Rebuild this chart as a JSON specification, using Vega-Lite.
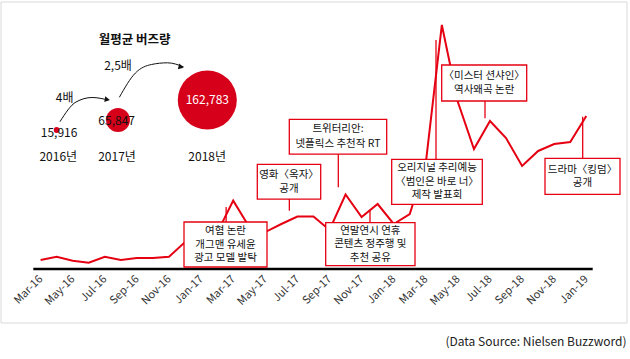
{
  "$schema": "https://vega.github.io/schema/vega-lite/v6.json",
  "width": 626,
  "height": 321,
  "autosize": {"type": "none"},
  "padding": {"left": 0.5, "top": 1.5, "right": 3.5, "bottom": 36.5},
  "background": "white",
  "config": {
    "font": "Noto Sans CJK KR",
    "view": {"stroke": "#D9D9D9", "strokeWidth": 1}
  },
  "title": {
    "text": "(Data Source: Nielsen Buzzword)",
    "orient": "bottom",
    "anchor": "end",
    "frame": "group",
    "font": "Noto Sans CJK KR",
    "fontSize": 12,
    "fontWeight": "normal",
    "color": "#222222",
    "offset": 14
  },
  "datasets": {
    "buzz": [
      {"month": "Mar-16", "v": 11900},
      {"month": "Apr-16", "v": 16200},
      {"month": "May-16", "v": 11000},
      {"month": "Jun-16", "v": 8300},
      {"month": "Jul-16", "v": 16200},
      {"month": "Aug-16", "v": 11900},
      {"month": "Sep-16", "v": 14500},
      {"month": "Oct-16", "v": 14500},
      {"month": "Nov-16", "v": 16200},
      {"month": "Dec-16", "v": 35600},
      {"month": "Jan-17", "v": 42200},
      {"month": "Feb-17", "v": 47500},
      {"month": "Mar-17", "v": 90200},
      {"month": "Apr-17", "v": 55400},
      {"month": "May-17", "v": 48800},
      {"month": "Jun-17", "v": 59400},
      {"month": "Jul-17", "v": 69300},
      {"month": "Aug-17", "v": 69300},
      {"month": "Sep-17", "v": 51500},
      {"month": "Oct-17", "v": 98300},
      {"month": "Nov-17", "v": 68600},
      {"month": "Dec-17", "v": 85800},
      {"month": "Jan-18", "v": 59400},
      {"month": "Feb-18", "v": 72600},
      {"month": "Mar-18", "v": 139900},
      {"month": "Apr-18", "v": 322100},
      {"month": "May-18", "v": 220400},
      {"month": "Jun-18", "v": 158400},
      {"month": "Jul-18", "v": 195400},
      {"month": "Aug-18", "v": 172900},
      {"month": "Sep-18", "v": 136000},
      {"month": "Oct-18", "v": 155800},
      {"month": "Nov-18", "v": 165000},
      {"month": "Dec-18", "v": 167600},
      {"month": "Jan-19", "v": 202000}
    ],
    "bubbles": [
      {"year": "2016년", "buzz": 15916},
      {"year": "2017년", "buzz": 65847},
      {"year": "2018년", "buzz": 162783}
    ],
    "arrow1": [
      {"month": "Apr-16", "v": 194436},
      {"month": "May-16", "v": 220440},
      {"month": "Jun-16", "v": 226380},
      {"month": "Jul-16", "v": 223080}
    ],
    "arrow2": [
      {"month": "Aug-16", "v": 226644},
      {"month": "Sep-16", "v": 258720},
      {"month": "Oct-16", "v": 269940},
      {"month": "Nov-16", "v": 272184},
      {"month": "Dec-16", "v": 266904}
    ]
  },
  "layer": [
    {
      "data": {"name": "buzz"},
      "mark": {"type": "line", "color": "#E50012", "strokeWidth": 2},
      "encoding": {
        "x": {
          "field": "month",
          "type": "ordinal",
          "sort": null,
          "scale": {
            "type": "point",
            "padding": 0,
            "range": [40.1, 585.8],
            "domain": ["Mar-16","Apr-16","May-16","Jun-16","Jul-16","Aug-16","Sep-16","Oct-16","Nov-16","Dec-16","Jan-17","Feb-17","Mar-17","Apr-17","May-17","Jun-17","Jul-17","Aug-17","Sep-17","Oct-17","Nov-17","Dec-17","Jan-18","Feb-18","Mar-18","Apr-18","May-18","Jun-18","Jul-18","Aug-18","Sep-18","Oct-18","Nov-18","Dec-18","Jan-19"]
          },
          "axis": {
            "values": ["Mar-16","May-16","Jul-16","Sep-16","Nov-16","Jan-17","Mar-17","May-17","Jul-17","Sep-17","Nov-17","Jan-18","Mar-18","May-18","Jul-18","Sep-18","Nov-18","Jan-19"],
            "labelAngle": -45,
            "labelAlign": "right",
            "labelBaseline": "middle",
            "labelPadding": 8,
            "labelFontSize": 11,
            "labelColor": "#333333",
            "labelFont": "Noto Sans CJK KR",
            "domain": false,
            "ticks": false,
            "grid": false,
            "title": null,
            "offset": -53.5
          }
        },
        "y": {
          "field": "v",
          "type": "quantitative",
          "scale": {"domain": [-70620, 353100], "nice": false, "zero": false},
          "axis": null
        }
      }
    },
    {
      "data": {"values": [{}]},
      "mark": {"type": "rule", "color": "black", "strokeWidth": 2.6, "xOffset": -7.3, "x2Offset": 6.4},
      "encoding": {
        "x": {"datum": "Mar-16", "type": "ordinal"},
        "x2": {"datum": "Jan-19"},
        "y": {"datum": 0, "type": "quantitative"}
      }
    },
    {
      "data": {"values": [{"note": ["여혐 논란", "개그맨 유세윤", "광고 모델 발탁"]}]},
      "encoding": {"x": {"datum": "Feb-17", "type": "ordinal"}},
      "layer": [
        {"mark": {"type": "rule", "color": "#E50012", "strokeWidth": 1.3, "xOffset": 9}, "encoding": {"y": {"datum": 81840, "type": "quantitative"}, "y2": {"datum": 62040}}},
        {"mark": {"type": "rect", "width": 83, "height": 45, "fill": "white", "stroke": "#E50012", "strokeWidth": 1.3, "xOffset": 8.35}, "encoding": {"y": {"datum": 32340, "type": "quantitative"}}},
        {"mark": {"type": "text", "fontSize": 10.5, "lineHeight": 13.5, "color": "#111111", "xOffset": 8.35, "yOffset": -13.5}, "encoding": {"y": {"datum": 32340, "type": "quantitative"}, "text": {"field": "note"}}}
      ]
    },
    {
      "data": {"values": [{"note": ["영화〈옥자〉", "공개"]}]},
      "encoding": {"x": {"datum": "Jun-17", "type": "ordinal"}},
      "layer": [
        {"mark": {"type": "rule", "color": "#E50012", "strokeWidth": 1.3, "xOffset": 8}, "encoding": {"y": {"datum": 92400, "type": "quantitative"}, "y2": {"datum": 76956}}},
        {"mark": {"type": "rect", "width": 63.4, "height": 34.7, "fill": "white", "stroke": "#E50012", "strokeWidth": 1.3, "xOffset": 7.65}, "encoding": {"y": {"datum": 115236, "type": "quantitative"}}},
        {"mark": {"type": "text", "fontSize": 10.5, "lineHeight": 14, "color": "#111111", "xOffset": 7.65, "yOffset": -7}, "encoding": {"y": {"datum": 115236, "type": "quantitative"}, "text": {"field": "note"}}}
      ]
    },
    {
      "data": {"values": [{"note": ["트위터리안:", "넷플릭스 추천작 RT"]}]},
      "encoding": {"x": {"datum": "Sep-17", "type": "ordinal"}},
      "layer": [
        {"mark": {"type": "rule", "color": "#E50012", "strokeWidth": 1.3, "xOffset": 8.8}, "encoding": {"y": {"datum": 151800, "type": "quantitative"}, "y2": {"datum": 107844}}},
        {"mark": {"type": "rect", "width": 97.4, "height": 34.7, "fill": "white", "stroke": "#E50012", "strokeWidth": 1.3, "xOffset": 8.5}, "encoding": {"y": {"datum": 174636, "type": "quantitative"}}},
        {"mark": {"type": "text", "fontSize": 10.5, "lineHeight": 14.5, "color": "#111111", "xOffset": 8.5, "yOffset": -7.25}, "encoding": {"y": {"datum": 174636, "type": "quantitative"}, "text": {"field": "note"}}}
      ]
    },
    {
      "data": {"values": [{"note": ["연말연시 연휴", "콘텐츠 정주행 및", "추천 공유"]}]},
      "encoding": {"x": {"datum": "Dec-17", "type": "ordinal"}},
      "layer": [
        {"mark": {"type": "rule", "color": "#E50012", "strokeWidth": 1.3, "xOffset": -7.65}, "encoding": {"y": {"datum": 61116, "type": "quantitative"}, "y2": {"datum": 77880}}},
        {"mark": {"type": "rect", "width": 89.3, "height": 43, "fill": "white", "stroke": "#E50012", "strokeWidth": 1.3, "xOffset": -7.3}, "encoding": {"y": {"datum": 32736, "type": "quantitative"}}},
        {"mark": {"type": "text", "fontSize": 10.5, "lineHeight": 13.5, "color": "#111111", "xOffset": -7.3, "yOffset": -13.5}, "encoding": {"y": {"datum": 32736, "type": "quantitative"}, "text": {"field": "note"}}}
      ]
    },
    {
      "data": {"values": [{"note": ["오리지널 추리예능", "〈범인은 바로 너〉", "제작 발표회"]}]},
      "encoding": {"x": {"datum": "Apr-18", "type": "ordinal"}},
      "layer": [
        {"mark": {"type": "rule", "color": "#E50012", "strokeWidth": 1.3, "xOffset": -5.85}, "encoding": {"y": {"datum": 144804, "type": "quantitative"}, "y2": {"datum": 302280}}},
        {"mark": {"type": "rect", "width": 90.6, "height": 45, "fill": "white", "stroke": "#E50012", "strokeWidth": 1.3, "xOffset": -4.85}, "encoding": {"y": {"datum": 115104, "type": "quantitative"}}},
        {"mark": {"type": "text", "fontSize": 10.5, "lineHeight": 13.5, "color": "#111111", "xOffset": -4.85, "yOffset": -13.5}, "encoding": {"y": {"datum": 115104, "type": "quantitative"}, "text": {"field": "note"}}}
      ]
    },
    {
      "data": {"values": [{"note": ["〈미스터 션샤인〉", "역사왜곡 논란"]}]},
      "encoding": {"x": {"datum": "Jul-18", "type": "ordinal"}},
      "layer": [
        {"mark": {"type": "rule", "color": "#E50012", "strokeWidth": 1.3, "xOffset": -5}, "encoding": {"y": {"datum": 221760, "type": "quantitative"}, "y2": {"datum": 198924}}},
        {"mark": {"type": "rect", "width": 85, "height": 36, "fill": "white", "stroke": "#E50012", "strokeWidth": 1.3, "xOffset": -5.8}, "encoding": {"y": {"datum": 245520, "type": "quantitative"}}},
        {"mark": {"type": "text", "fontSize": 10.5, "lineHeight": 14.5, "color": "#111111", "xOffset": -5.8, "yOffset": -7.25}, "encoding": {"y": {"datum": 245520, "type": "quantitative"}, "text": {"field": "note"}}}
      ]
    },
    {
      "data": {"values": [{"note": ["드라마〈킹덤〉", "공개"]}]},
      "encoding": {"x": {"datum": "Jan-19", "type": "ordinal"}},
      "layer": [
        {"mark": {"type": "rule", "color": "#E50012", "strokeWidth": 1.3, "xOffset": -3.6}, "encoding": {"y": {"datum": 146124, "type": "quantitative"}, "y2": {"datum": 201036}}},
        {"mark": {"type": "rect", "width": 75, "height": 36, "fill": "white", "stroke": "#E50012", "strokeWidth": 1.3, "xOffset": -3.8}, "encoding": {"y": {"datum": 122364, "type": "quantitative"}}},
        {"mark": {"type": "text", "fontSize": 10.5, "lineHeight": 13.5, "color": "#111111", "xOffset": -3.8, "yOffset": -6.75}, "encoding": {"y": {"datum": 122364, "type": "quantitative"}, "text": {"field": "note"}}}
      ]
    },
    {
      "data": {"values": [{"label": "월평균 버즈량"}]},
      "mark": {"type": "text", "fontSize": 12.5, "fontWeight": "bold", "color": "#111111", "xOffset": -2.2},
      "encoding": {"x": {"datum": "Sep-16", "type": "ordinal"}, "y": {"datum": 302280, "type": "quantitative"}, "text": {"field": "label"}}
    },
    {
      "data": {"values": [{"label": "4배"}]},
      "mark": {"type": "text", "fontSize": 12, "color": "#111111", "xOffset": 8},
      "encoding": {"x": {"datum": "Apr-16", "type": "ordinal"}, "y": {"datum": 225324, "type": "quantitative"}, "text": {"field": "label"}}
    },
    {
      "data": {"values": [{"label": "2,5배"}]},
      "mark": {"type": "text", "fontSize": 12, "color": "#111111", "xOffset": -2.85},
      "encoding": {"x": {"datum": "Aug-16", "type": "ordinal"}, "y": {"datum": 267960, "type": "quantitative"}, "text": {"field": "label"}}
    },
    {
      "data": {"name": "arrow1"},
      "mark": {"type": "line", "color": "#111111", "strokeWidth": 1, "interpolate": "monotone", "xOffset": 3.3},
      "encoding": {"x": {"field": "month", "type": "ordinal", "sort": null}, "y": {"field": "v", "type": "quantitative"}}
    },
    {
      "data": {"name": "arrow2"},
      "mark": {"type": "line", "color": "#111111", "strokeWidth": 1, "interpolate": "monotone", "xOffset": -1.5},
      "encoding": {"x": {"field": "month", "type": "ordinal", "sort": null}, "y": {"field": "v", "type": "quantitative"}}
    },
    {
      "data": {"values": [{}]},
      "mark": {"type": "point", "shape": "triangle-right", "filled": true, "color": "#111111", "opacity": 1, "size": 35, "angle": 10, "xOffset": 2.5},
      "encoding": {"x": {"datum": "Jul-16", "type": "ordinal"}, "y": {"datum": 223608, "type": "quantitative"}}
    },
    {
      "data": {"values": [{}]},
      "mark": {"type": "point", "shape": "triangle-right", "filled": true, "color": "#111111", "opacity": 1, "size": 35, "angle": 15, "xOffset": -4},
      "encoding": {"x": {"datum": "Dec-16", "type": "ordinal"}, "y": {"datum": 266640, "type": "quantitative"}}
    },
    {
      "data": {"name": "bubbles"},
      "transform": [{"filter": "datum.year == '2016년'"}],
      "encoding": {"x": {"datum": "Apr-16", "type": "ordinal"}},
      "layer": [
        {"mark": {"type": "circle", "color": "#D7001A", "opacity": 1}, "encoding": {"y": {"datum": 183480, "type": "quantitative"}, "size": {"field": "buzz", "type": "quantitative", "scale": {"type": "pow", "exponent": 2, "domain": [0, 162783], "range": [0, 3487]}, "legend": null}}},
        {"mark": {"type": "text", "fontSize": 12, "color": "#111111", "xOffset": 2.4}, "encoding": {"y": {"datum": 179916, "type": "quantitative"}, "text": {"field": "buzz", "type": "quantitative", "format": ",d"}}},
        {"mark": {"type": "text", "fontSize": 12, "color": "#111111", "xOffset": 1.6}, "encoding": {"y": {"datum": 148236, "type": "quantitative"}, "text": {"field": "year"}}}
      ]
    },
    {
      "data": {"name": "bubbles"},
      "transform": [{"filter": "datum.year == '2017년'"}],
      "encoding": {"x": {"datum": "Aug-16", "type": "ordinal"}},
      "layer": [
        {"mark": {"type": "circle", "color": "#D7001A", "opacity": 1, "xOffset": -2.85}, "encoding": {"y": {"datum": 196680, "type": "quantitative"}, "size": {"field": "buzz", "type": "quantitative", "legend": null}}},
        {"mark": {"type": "text", "fontSize": 12, "color": "#111111", "xOffset": -4.2}, "encoding": {"y": {"datum": 195756, "type": "quantitative"}, "text": {"field": "buzz", "type": "quantitative", "format": ",d"}}},
        {"mark": {"type": "text", "fontSize": 12, "color": "#111111", "xOffset": -3.85}, "encoding": {"y": {"datum": 148236, "type": "quantitative"}, "text": {"field": "year"}}}
      ]
    },
    {
      "data": {"name": "bubbles"},
      "transform": [{"filter": "datum.year == '2018년'"}],
      "encoding": {"x": {"datum": "Jan-17", "type": "ordinal"}},
      "layer": [
        {"mark": {"type": "circle", "color": "#D7001A", "opacity": 1, "xOffset": 6.2}, "encoding": {"y": {"datum": 223080, "type": "quantitative"}, "size": {"field": "buzz", "type": "quantitative", "legend": null}}},
        {"mark": {"type": "text", "fontSize": 12, "color": "white", "xOffset": 6.2}, "encoding": {"y": {"datum": 223080, "type": "quantitative"}, "text": {"field": "buzz", "type": "quantitative", "format": ",d"}}},
        {"mark": {"type": "text", "fontSize": 12, "color": "#111111", "xOffset": 6.1}, "encoding": {"y": {"datum": 148236, "type": "quantitative"}, "text": {"field": "year"}}}
      ]
    }
  ]
}
